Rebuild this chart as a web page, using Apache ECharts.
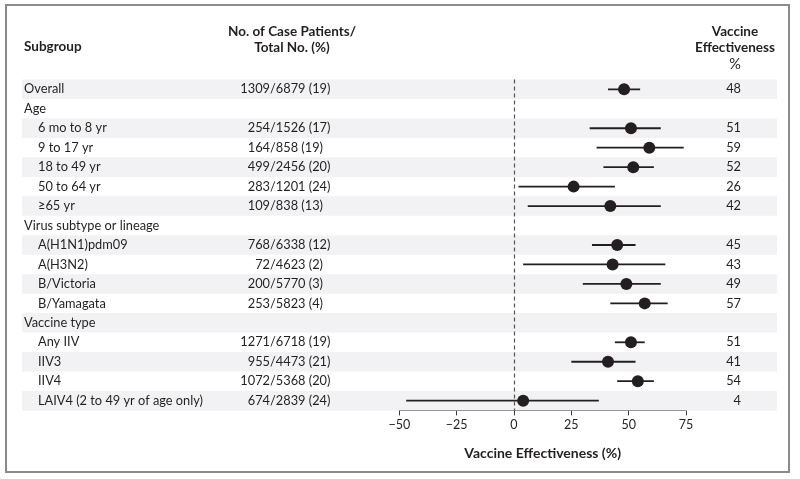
<!DOCTYPE html>
<html><head><meta charset="utf-8">
<script src="https://cdn.jsdelivr.net/npm/echarts@6/dist/echarts.min.js"></script>
<style>html,body{margin:0;padding:0;background:#fff}#c{width:800px;height:479px}</style>
</head><body><div id="c"></div>
<script>
const subgroups = ['Overall','Age','6 mo to 8 yr','9 to 17 yr','18 to 49 yr','50 to 64 yr','\u226565 yr',
  'Virus subtype or lineage','A(H1N1)pdm09','A(H3N2)','B/Victoria','B/Yamagata',
  'Vaccine type','Any IIV','IIV3','IIV4','LAIV4 (2 to 49 yr of age only)'];
const isHeader = [1,1,0,0,0,0,0,1,0,0,0,0,1,0,0,0,0];
const casePatients = ['1309/6879 (19)','', '254/1526 (17)','164/858 (19)','499/2456 (20)','283/1201 (24)','109/838 (13)',
  '', '768/6338 (12)','72/4623 (2)','200/5770 (3)','253/5823 (4)',
  '', '1271/6718 (19)','955/4473 (21)','1072/5368 (20)','674/2839 (24)'];
const effectiveness = [48,null,51,59,52,26,42,null,45,43,49,57,null,51,41,54,4];
const ciLow  = [41,null,33,36,39,2,6,null,34,4,30,42,null,44,25,45,-47];
const ciHigh = [55,null,64,74,61,44,64,null,53,66,64,67,null,57,53,61,37];
const xTicks = {min:-50, max:75, interval:25};

const FONT = 'Lato';
const TXT = '#231f20';
const rowIdx = subgroups.map((_, i) => String(i));

const chart = echarts.init(document.getElementById('c'), null, {renderer:'canvas'});

const bandData = subgroups.map((_, i) => [0, i]);
const ciData = [];
const ptData = [];
effectiveness.forEach((v, i) => {
  if (v !== null) { ciData.push([i, ciLow[i], ciHigh[i]]); ptData.push([v, i]); }
});

function fmtTick(v){ return v < 0 ? '\u2212' + Math.abs(v) : String(v); }

chart.setOption({
  animation:false,
  backgroundColor:'#fff',
  grid:{left:399.3, right:114, top:79.6, bottom:68.6, containLabel:false},
  xAxis:{type:'value', min:xTicks.min, max:xTicks.max, interval:xTicks.interval,
    axisLine:{show:true, lineStyle:{color:'#3a3a3a', width:1}},
    axisTick:{show:true, length:5, lineStyle:{color:'#3a3a3a', width:1}},
    axisLabel:{color:TXT, fontFamily:FONT, fontSize:12.5, margin:8, formatter:fmtTick},
    splitLine:{show:false},
    name:'Vaccine Effectiveness (%)', nameLocation:'middle', nameGap:36,
    nameTextStyle:{color:TXT, fontFamily:FONT, fontSize:14, fontWeight:'bold'}},
  yAxis:{type:'category', data:rowIdx, inverse:true, show:false},
  graphic:[
    {type:'rect', shape:{x:6, y:5, width:783, height:467}, style:{fill:'none', stroke:'#8a8a8a', lineWidth:2}, z:100},
    {type:'text', style:{text:'Subgroup', x:24, y:47, align:'left', verticalAlign:'middle', fill:TXT, fontFamily:FONT, fontSize:13.5, fontWeight:'bold'}},
    {type:'text', style:{text:'No. of Case Patients/', x:292, y:32, align:'center', verticalAlign:'middle', fill:TXT, fontFamily:FONT, fontSize:13.5, fontWeight:'bold'}},
    {type:'text', style:{text:'Total No. (%)', x:292, y:48, align:'center', verticalAlign:'middle', fill:TXT, fontFamily:FONT, fontSize:13.5, fontWeight:'bold'}},
    {type:'text', style:{text:'Vaccine', x:735, y:32, align:'center', verticalAlign:'middle', fill:TXT, fontFamily:FONT, fontSize:13.5, fontWeight:'bold'}},
    {type:'text', style:{text:'Effectiveness', x:735, y:48, align:'center', verticalAlign:'middle', fill:TXT, fontFamily:FONT, fontSize:13.5, fontWeight:'bold'}},
    {type:'text', style:{text:'%', x:735, y:64, align:'center', verticalAlign:'middle', fill:TXT, fontFamily:FONT, fontSize:14.5}}
  ],
  series:[
    {type:'custom', clip:false, z:1, silent:true, data:bandData, encode:{x:0, y:1},
      renderItem:function(params, api){
        const i = api.value(1);
        const p = api.coord([0, i]);
        const h = api.size([0, 1])[1];
        const children = [];
        if (i % 2 === 0) children.push({type:'rect', shape:{x:22, y:p[1]-h/2, width:755, height:h}, style:{fill:'#f2f2f4'}});
        const indent = isHeader[i] ? 24 : 38;
        children.push({type:'text', style:{text:subgroups[i], x:indent, y:p[1], align:'left', verticalAlign:'middle', fill:TXT, fontFamily:FONT, fontSize:12.8}});
        const cp = casePatients[i];
        if (cp) {
          const k = cp.indexOf('/');
          children.push({type:'text', style:{text:cp.slice(0,k), x:270, y:p[1], align:'right', verticalAlign:'middle', fill:TXT, fontFamily:FONT, fontSize:12.8}});
          children.push({type:'text', style:{text:cp.slice(k), x:270, y:p[1], align:'left', verticalAlign:'middle', fill:TXT, fontFamily:FONT, fontSize:12.8}});
        }
        if (effectiveness[i] !== null) {
          children.push({type:'text', style:{text:String(effectiveness[i]), x:741, y:p[1], align:'right', verticalAlign:'middle', fill:TXT, fontFamily:FONT, fontSize:12.8}});
        }
        return {type:'group', children:children};
      }},
    {type:'custom', clip:false, z:3, silent:true, data:ciData, encode:{x:[1,2], y:0},
      renderItem:function(params, api){
        const i = api.value(0);
        const a = api.coord([api.value(1), i]);
        const b = api.coord([api.value(2), i]);
        return {type:'line', shape:{x1:a[0], y1:a[1], x2:b[0], y2:b[1]}, style:{stroke:TXT, lineWidth:1.8}};
      }},
    {type:'scatter', z:4, silent:true, symbol:'circle', symbolSize:12, itemStyle:{color:TXT, opacity:1},
      data:ptData,
      markLine:{silent:true, symbol:['none','none'], label:{show:false},
        lineStyle:{color:'#555', width:1.2, type:[4,3]}, data:[{xAxis:0}]}}
  ]
});
</script></body></html>
